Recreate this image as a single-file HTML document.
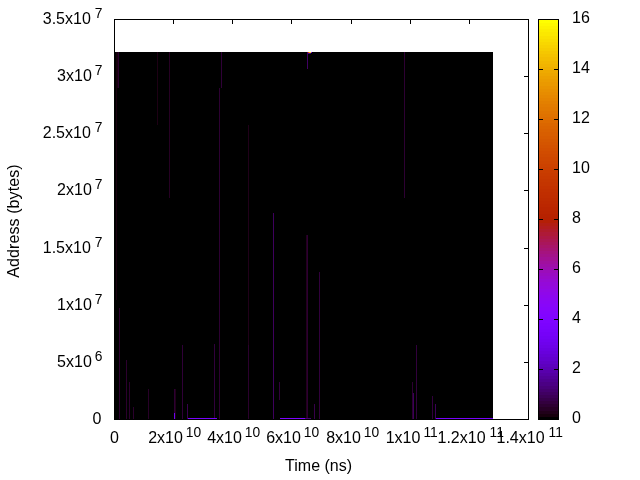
<!DOCTYPE html>
<html><head><meta charset="utf-8"><title>plot</title>
<style>
html,body{margin:0;padding:0;background:#fff}
body{width:640px;height:480px;position:relative;overflow:hidden;font-family:"Liberation Sans",sans-serif;font-size:16px;color:#000}
i{position:absolute;display:block}
.k{background:#000}
.t{position:absolute;white-space:nowrap;line-height:18px;height:18px}
.xl{transform:translateX(-50%)}
.yl{transform:translateX(0.5px)}
sup{font-size:13.8px;vertical-align:baseline;position:relative;top:-6px;margin-left:3px;line-height:0}
sup.d{margin-left:4px}
#img{position:absolute;left:115px;top:52px;width:378px;height:367px;background:#000}
#box{position:absolute;left:114px;top:19px;width:415px;height:401px;box-sizing:border-box;border:1px solid #000}
#cb{position:absolute;left:538px;top:19px;width:21px;height:401px;box-sizing:border-box;border:1px solid #000}
#cbg{position:absolute;left:538px;top:19px;width:21px;height:401px;background:#ffff00 linear-gradient(to bottom,rgb(255,255,0) 0.000px,rgb(255,255,0) 3.125px,rgb(254,249,0) 3.125px,rgb(254,249,0) 6.250px,rgb(253,243,0) 6.250px,rgb(253,243,0) 9.375px,rgb(252,237,0) 9.375px,rgb(252,237,0) 12.500px,rgb(251,232,0) 12.500px,rgb(251,232,0) 15.625px,rgb(250,226,0) 15.625px,rgb(250,226,0) 18.750px,rgb(249,221,0) 18.750px,rgb(249,221,0) 21.875px,rgb(248,215,0) 21.875px,rgb(248,215,0) 25.000px,rgb(247,210,0) 25.000px,rgb(247,210,0) 28.125px,rgb(246,205,0) 28.125px,rgb(246,205,0) 31.250px,rgb(245,199,0) 31.250px,rgb(245,199,0) 34.375px,rgb(244,194,0) 34.375px,rgb(244,194,0) 37.500px,rgb(243,189,0) 37.500px,rgb(243,189,0) 40.625px,rgb(242,184,0) 40.625px,rgb(242,184,0) 43.750px,rgb(241,180,0) 43.750px,rgb(241,180,0) 46.875px,rgb(239,175,0) 46.875px,rgb(239,175,0) 50.000px,rgb(238,170,0) 50.000px,rgb(238,170,0) 53.125px,rgb(237,166,0) 53.125px,rgb(237,166,0) 56.250px,rgb(236,161,0) 56.250px,rgb(236,161,0) 59.375px,rgb(235,157,0) 59.375px,rgb(235,157,0) 62.500px,rgb(234,153,0) 62.500px,rgb(234,153,0) 65.625px,rgb(233,148,0) 65.625px,rgb(233,148,0) 68.750px,rgb(232,144,0) 68.750px,rgb(232,144,0) 71.875px,rgb(231,140,0) 71.875px,rgb(231,140,0) 75.000px,rgb(230,136,0) 75.000px,rgb(230,136,0) 78.125px,rgb(229,132,0) 78.125px,rgb(229,132,0) 81.250px,rgb(227,128,0) 81.250px,rgb(227,128,0) 84.375px,rgb(226,124,0) 84.375px,rgb(226,124,0) 87.500px,rgb(225,121,0) 87.500px,rgb(225,121,0) 90.625px,rgb(224,117,0) 90.625px,rgb(224,117,0) 93.750px,rgb(223,114,0) 93.750px,rgb(223,114,0) 96.875px,rgb(222,110,0) 96.875px,rgb(222,110,0) 100.000px,rgb(221,107,0) 100.000px,rgb(221,107,0) 103.125px,rgb(219,103,0) 103.125px,rgb(219,103,0) 106.250px,rgb(218,100,0) 106.250px,rgb(218,100,0) 109.375px,rgb(217,97,0) 109.375px,rgb(217,97,0) 112.500px,rgb(216,94,0) 112.500px,rgb(216,94,0) 115.625px,rgb(215,91,0) 115.625px,rgb(215,91,0) 118.750px,rgb(213,88,0) 118.750px,rgb(213,88,0) 121.875px,rgb(212,85,0) 121.875px,rgb(212,85,0) 125.000px,rgb(211,82,0) 125.000px,rgb(211,82,0) 128.125px,rgb(210,79,0) 128.125px,rgb(210,79,0) 131.250px,rgb(209,76,0) 131.250px,rgb(209,76,0) 134.375px,rgb(207,74,0) 134.375px,rgb(207,74,0) 137.500px,rgb(206,71,0) 137.500px,rgb(206,71,0) 140.625px,rgb(205,69,0) 140.625px,rgb(205,69,0) 143.750px,rgb(204,66,0) 143.750px,rgb(204,66,0) 146.875px,rgb(202,64,0) 146.875px,rgb(202,64,0) 150.000px,rgb(201,61,0) 150.000px,rgb(201,61,0) 153.125px,rgb(200,59,0) 153.125px,rgb(200,59,0) 156.250px,rgb(199,57,0) 156.250px,rgb(199,57,0) 159.375px,rgb(197,55,0) 159.375px,rgb(197,55,0) 162.500px,rgb(196,53,0) 162.500px,rgb(196,53,0) 165.625px,rgb(195,50,0) 165.625px,rgb(195,50,0) 168.750px,rgb(193,48,0) 168.750px,rgb(193,48,0) 171.875px,rgb(192,46,0) 171.875px,rgb(192,46,0) 175.000px,rgb(191,45,0) 175.000px,rgb(191,45,0) 178.125px,rgb(189,43,0) 178.125px,rgb(189,43,0) 181.250px,rgb(188,41,0) 181.250px,rgb(188,41,0) 184.375px,rgb(187,39,0) 184.375px,rgb(187,39,0) 187.500px,rgb(185,37,0) 187.500px,rgb(185,37,0) 190.625px,rgb(184,36,0) 190.625px,rgb(184,36,0) 193.750px,rgb(182,34,0) 193.750px,rgb(182,34,0) 196.875px,rgb(181,33,0) 196.875px,rgb(181,33,0) 200.000px,rgb(180,31,6) 200.000px,rgb(180,31,6) 203.125px,rgb(178,30,19) 203.125px,rgb(178,30,19) 206.250px,rgb(177,28,31) 206.250px,rgb(177,28,31) 209.375px,rgb(175,27,44) 209.375px,rgb(175,27,44) 212.500px,rgb(174,26,56) 212.500px,rgb(174,26,56) 215.625px,rgb(172,24,69) 215.625px,rgb(172,24,69) 218.750px,rgb(171,23,81) 218.750px,rgb(171,23,81) 221.875px,rgb(169,22,92) 221.875px,rgb(169,22,92) 225.000px,rgb(168,21,104) 225.000px,rgb(168,21,104) 228.125px,rgb(166,20,115) 228.125px,rgb(166,20,115) 231.250px,rgb(165,19,127) 231.250px,rgb(165,19,127) 234.375px,rgb(163,18,137) 234.375px,rgb(163,18,137) 237.500px,rgb(162,17,148) 237.500px,rgb(162,17,148) 240.625px,rgb(160,16,158) 240.625px,rgb(160,16,158) 243.750px,rgb(158,15,168) 243.750px,rgb(158,15,168) 246.875px,rgb(157,14,177) 246.875px,rgb(157,14,177) 250.000px,rgb(155,13,186) 250.000px,rgb(155,13,186) 253.125px,rgb(153,12,194) 253.125px,rgb(153,12,194) 256.250px,rgb(152,11,202) 256.250px,rgb(152,11,202) 259.375px,rgb(150,11,210) 259.375px,rgb(150,11,210) 262.500px,rgb(148,10,217) 262.500px,rgb(148,10,217) 265.625px,rgb(147,9,223) 265.625px,rgb(147,9,223) 268.750px,rgb(145,9,229) 268.750px,rgb(145,9,229) 271.875px,rgb(143,8,234) 271.875px,rgb(143,8,234) 275.000px,rgb(141,7,239) 275.000px,rgb(141,7,239) 278.125px,rgb(139,7,243) 278.125px,rgb(139,7,243) 281.250px,rgb(138,6,246) 281.250px,rgb(138,6,246) 284.375px,rgb(136,6,249) 284.375px,rgb(136,6,249) 287.500px,rgb(134,5,252) 287.500px,rgb(134,5,252) 290.625px,rgb(132,5,253) 290.625px,rgb(132,5,253) 293.750px,rgb(130,4,255) 293.750px,rgb(130,4,255) 296.875px,rgb(128,4,255) 296.875px,rgb(128,4,255) 300.000px,rgb(126,4,255) 300.000px,rgb(126,4,255) 303.125px,rgb(124,3,254) 303.125px,rgb(124,3,254) 306.250px,rgb(122,3,253) 306.250px,rgb(122,3,253) 309.375px,rgb(120,3,251) 309.375px,rgb(120,3,251) 312.500px,rgb(118,2,248) 312.500px,rgb(118,2,248) 315.625px,rgb(115,2,245) 315.625px,rgb(115,2,245) 318.750px,rgb(113,2,241) 318.750px,rgb(113,2,241) 321.875px,rgb(111,2,236) 321.875px,rgb(111,2,236) 325.000px,rgb(109,2,231) 325.000px,rgb(109,2,231) 328.125px,rgb(106,1,226) 328.125px,rgb(106,1,226) 331.250px,rgb(104,1,220) 331.250px,rgb(104,1,220) 334.375px,rgb(101,1,213) 334.375px,rgb(101,1,213) 337.500px,rgb(99,1,206) 337.500px,rgb(99,1,206) 340.625px,rgb(96,1,198) 340.625px,rgb(96,1,198) 343.750px,rgb(93,1,190) 343.750px,rgb(93,1,190) 346.875px,rgb(91,1,181) 346.875px,rgb(91,1,181) 350.000px,rgb(88,0,172) 350.000px,rgb(88,0,172) 353.125px,rgb(85,0,163) 353.125px,rgb(85,0,163) 356.250px,rgb(82,0,153) 356.250px,rgb(82,0,153) 359.375px,rgb(78,0,143) 359.375px,rgb(78,0,143) 362.500px,rgb(75,0,132) 362.500px,rgb(75,0,132) 365.625px,rgb(72,0,121) 365.625px,rgb(72,0,121) 368.750px,rgb(68,0,110) 368.750px,rgb(68,0,110) 371.875px,rgb(64,0,98) 371.875px,rgb(64,0,98) 375.000px,rgb(60,0,87) 375.000px,rgb(60,0,87) 378.125px,rgb(55,0,75) 378.125px,rgb(55,0,75) 381.250px,rgb(51,0,62) 381.250px,rgb(51,0,62) 384.375px,rgb(45,0,50) 384.375px,rgb(45,0,50) 387.500px,rgb(39,0,38) 387.500px,rgb(39,0,38) 390.625px,rgb(32,0,25) 390.625px,rgb(32,0,25) 393.750px,rgb(23,0,13) 393.750px,rgb(23,0,13) 396.875px,rgb(0,0,0) 396.875px,rgb(0,0,0) 400.000px) no-repeat 0 1.3px}
</style></head><body>
<div id="box"></div>
<div id="cbg"></div>
<div id="cb"></div>
<i class="k" style="left:173px;top:415px;width:1px;height:5px"></i>
<i class="k" style="left:173px;top:19px;width:1px;height:5px"></i>
<i class="k" style="left:232px;top:415px;width:1px;height:5px"></i>
<i class="k" style="left:232px;top:19px;width:1px;height:5px"></i>
<i class="k" style="left:291px;top:415px;width:1px;height:5px"></i>
<i class="k" style="left:291px;top:19px;width:1px;height:5px"></i>
<i class="k" style="left:351px;top:415px;width:1px;height:5px"></i>
<i class="k" style="left:351px;top:19px;width:1px;height:5px"></i>
<i class="k" style="left:410px;top:415px;width:1px;height:5px"></i>
<i class="k" style="left:410px;top:19px;width:1px;height:5px"></i>
<i class="k" style="left:469px;top:415px;width:1px;height:5px"></i>
<i class="k" style="left:469px;top:19px;width:1px;height:5px"></i>
<i class="k" style="left:114px;top:362px;width:5px;height:1px"></i>
<i class="k" style="left:524px;top:362px;width:5px;height:1px"></i>
<i class="k" style="left:114px;top:305px;width:5px;height:1px"></i>
<i class="k" style="left:524px;top:305px;width:5px;height:1px"></i>
<i class="k" style="left:114px;top:248px;width:5px;height:1px"></i>
<i class="k" style="left:524px;top:248px;width:5px;height:1px"></i>
<i class="k" style="left:114px;top:190px;width:5px;height:1px"></i>
<i class="k" style="left:524px;top:190px;width:5px;height:1px"></i>
<i class="k" style="left:114px;top:133px;width:5px;height:1px"></i>
<i class="k" style="left:524px;top:133px;width:5px;height:1px"></i>
<i class="k" style="left:114px;top:76px;width:5px;height:1px"></i>
<i class="k" style="left:524px;top:76px;width:5px;height:1px"></i>
<i class="k" style="left:539px;top:369px;width:4px;height:1px"></i>
<i class="k" style="left:554px;top:369px;width:4px;height:1px"></i>
<i class="k" style="left:539px;top:319px;width:4px;height:1px"></i>
<i class="k" style="left:554px;top:319px;width:4px;height:1px"></i>
<i class="k" style="left:539px;top:269px;width:4px;height:1px"></i>
<i class="k" style="left:554px;top:269px;width:4px;height:1px"></i>
<i class="k" style="left:539px;top:219px;width:4px;height:1px"></i>
<i class="k" style="left:554px;top:219px;width:4px;height:1px"></i>
<i class="k" style="left:539px;top:169px;width:4px;height:1px"></i>
<i class="k" style="left:554px;top:169px;width:4px;height:1px"></i>
<i class="k" style="left:539px;top:119px;width:4px;height:1px"></i>
<i class="k" style="left:554px;top:119px;width:4px;height:1px"></i>
<i class="k" style="left:539px;top:69px;width:4px;height:1px"></i>
<i class="k" style="left:554px;top:69px;width:4px;height:1px"></i>
<div id="img"></div>
<i style="left:118px;top:52px;width:1px;height:36px;background:#2b002d"></i>
<i style="left:117px;top:52px;width:1px;height:36px;background:#19000f"></i>
<i style="left:116px;top:52px;width:1px;height:36px;background:#16000c"></i>
<i style="left:116px;top:88px;width:1px;height:212px;background:#19000f"></i>
<i style="left:157px;top:52px;width:1px;height:73px;background:#1d0014"></i>
<i style="left:169px;top:52px;width:1px;height:146px;background:#260023"></i>
<i style="left:221px;top:52px;width:1px;height:36px;background:#2f0037"></i>
<i style="left:219px;top:88px;width:1px;height:331px;background:#2d0032"></i>
<i style="left:248px;top:125px;width:1px;height:220px;background:#200019"></i>
<i style="left:248px;top:345px;width:1px;height:74px;background:#2b002d"></i>
<i style="left:119px;top:308px;width:1px;height:111px;background:#2b002d"></i>
<i style="left:126px;top:360px;width:1px;height:59px;background:#2b002d"></i>
<i style="left:129px;top:382px;width:1px;height:37px;background:#2b002d"></i>
<i style="left:133px;top:407px;width:1px;height:12px;background:#2b002d"></i>
<i style="left:148px;top:389px;width:1px;height:30px;background:#280028"></i>
<i style="left:174px;top:389px;width:1px;height:30px;background:#2d0032"></i>
<i style="left:175px;top:389px;width:1px;height:30px;background:#200019"></i>
<i style="left:174px;top:413px;width:1px;height:6px;background:#6e02ec"></i>
<i style="left:182px;top:345px;width:1px;height:74px;background:#2f0037"></i>
<i style="left:187px;top:404px;width:1px;height:15px;background:#39004f"></i>
<i style="left:214px;top:344px;width:1px;height:75px;background:#31003c"></i>
<i style="left:307px;top:52px;width:1px;height:17px;background:#400062"></i>
<i style="left:404px;top:52px;width:1px;height:146px;background:#2d0032"></i>
<i style="left:273px;top:213px;width:1px;height:206px;background:#3e005d"></i>
<i style="left:306px;top:235px;width:1px;height:184px;background:#23001e"></i>
<i style="left:307px;top:235px;width:1px;height:184px;background:#2d0032"></i>
<i style="left:319px;top:272px;width:1px;height:147px;background:#31003c"></i>
<i style="left:279px;top:382px;width:1px;height:18px;background:#31003c"></i>
<i style="left:314px;top:404px;width:1px;height:15px;background:#37004a"></i>
<i style="left:412px;top:382px;width:1px;height:37px;background:#2d0032"></i>
<i style="left:413px;top:393px;width:1px;height:26px;background:#3c0058"></i>
<i style="left:416px;top:345px;width:1px;height:74px;background:#31003c"></i>
<i style="left:432px;top:396px;width:1px;height:23px;background:#31003c"></i>
<i style="left:435px;top:404px;width:1px;height:15px;background:#3c0058"></i>
<i style="left:188px;top:418px;width:29px;height:1px;background:#7703fa"></i>
<i style="left:280px;top:418px;width:25px;height:1px;background:#7c03fe"></i>
<i style="left:305px;top:418px;width:6px;height:1px;background:#460074"></i>
<i style="left:436px;top:418px;width:57px;height:1px;background:#7703fa"></i>
<i style="left:308px;top:52px;width:1px;height:1px;background:#dc4a00"></i>
<i style="left:309px;top:52px;width:1px;height:1px;background:#ffb400"></i>
<i style="left:310px;top:52px;width:1px;height:1px;background:#fff000"></i>
<i style="left:311px;top:52px;width:1px;height:1px;background:#7a00ff"></i>
<i style="left:308px;top:53px;width:1px;height:1px;background:#4a0099"></i>
<i style="left:309px;top:53px;width:1px;height:1px;background:#4a0099"></i>
<i style="left:310px;top:53px;width:1px;height:1px;background:#30006a"></i>
<div class="t yl" style="right:539px;top:410px">0</div>
<div class="t yl" style="right:538px;top:353px">5x10<sup>6</sup></div>
<div class="t yl" style="right:538px;top:296px">1x10<sup>7</sup></div>
<div class="t yl" style="right:538px;top:239px">1.5x10<sup class="d">7</sup></div>
<div class="t yl" style="right:538px;top:181px">2x10<sup>7</sup></div>
<div class="t yl" style="right:538px;top:124px">2.5x10<sup class="d">7</sup></div>
<div class="t yl" style="right:538px;top:67px">3x10<sup>7</sup></div>
<div class="t yl" style="right:538px;top:10px">3.5x10<sup class="d">7</sup></div>
<div class="t xl" style="left:114.5px;top:429px">0</div>
<div class="t xl" style="left:174.7px;top:429px">2x10<sup>10</sup></div>
<div class="t xl" style="left:233.7px;top:429px">4x10<sup>10</sup></div>
<div class="t xl" style="left:292.7px;top:429px">6x10<sup>10</sup></div>
<div class="t xl" style="left:352.7px;top:429px">8x10<sup>10</sup></div>
<div class="t xl" style="left:411.7px;top:429px">1x10<sup>11</sup></div>
<div class="t xl" style="left:470.7px;top:429px">1.2x10<sup class="d">11</sup></div>
<div class="t xl" style="left:529.7px;top:429px">1.4x10<sup class="d">11</sup></div>
<div class="t" style="left:572px;top:409.0px">0</div>
<div class="t" style="left:572px;top:359.0px">2</div>
<div class="t" style="left:572px;top:309.0px">4</div>
<div class="t" style="left:572px;top:259.0px">6</div>
<div class="t" style="left:572px;top:209.0px">8</div>
<div class="t" style="left:572px;top:159.0px">10</div>
<div class="t" style="left:572px;top:109.0px">12</div>
<div class="t" style="left:572px;top:59.0px">14</div>
<div class="t" style="left:572px;top:9.0px">16</div>
<div class="t" style="left:318.6px;top:457px;transform:translateX(-50%)">Time (ns)</div>
<div class="t" style="left:14px;top:220.5px;letter-spacing:0.09px;transform:translate(-50%,-50%) rotate(-90deg)">Address (bytes)</div>
</body></html>
